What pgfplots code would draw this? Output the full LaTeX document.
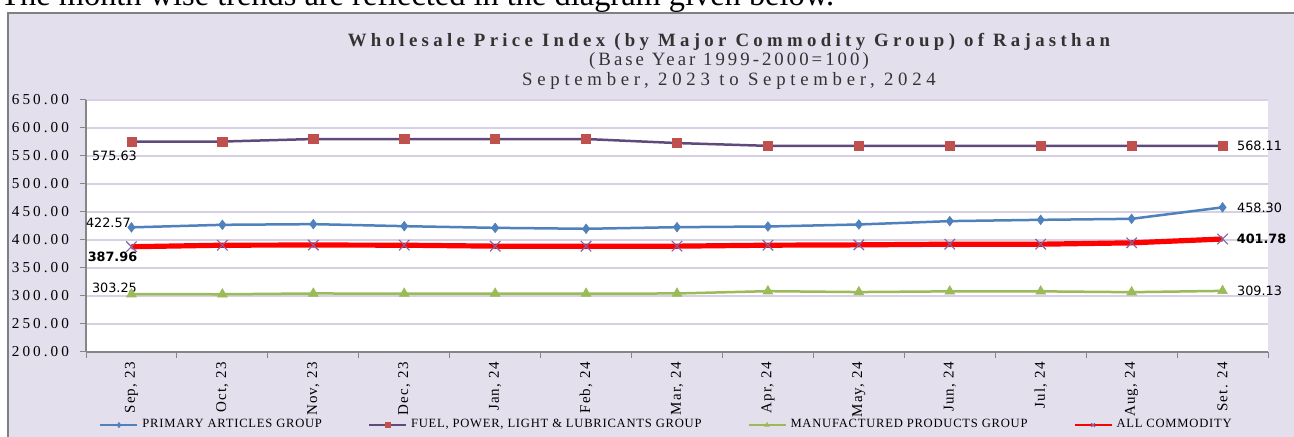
\documentclass[border=0pt]{standalone}
\usepackage{pgfplots}
\pgfplotsset{compat=1.18}
\usepackage{fontspec}
\setmainfont{Liberation Serif}
\newfontfamily\spaced[LetterSpace=20]{Liberation Serif}
\newfontfamily\spacedA[LetterSpace=23]{Liberation Serif}
\newfontfamily\spacedB[LetterSpace=16]{Liberation Serif}
\newfontfamily\spacedC[LetterSpace=25]{Liberation Serif}
\newfontfamily\spacedtick[LetterSpace=8]{Liberation Serif}
\newfontfamily\legfont[LetterSpace=6]{Liberation Serif}
\newfontfamily\lab{DejaVu Sans}
\definecolor{lav}{HTML}{E4DFEC}
\definecolor{gridc}{HTML}{D6D0E2}
\definecolor{axc}{HTML}{868686}
\definecolor{cprim}{HTML}{4F81BD}
\definecolor{cfuel}{HTML}{604A7B}
\definecolor{cfuelm}{HTML}{C0504D}
\definecolor{cman}{HTML}{9BBB59}
\definecolor{callm}{HTML}{8064A2}
\begin{document}
\begin{tikzpicture}[x=0.5pt,y=-0.5pt]
\node[anchor=base west,inner sep=0,font=\fontsize{16.2}{17}\selectfont] at (0,6) {The month wise trends are reflected in the diagram given below.};
\fill[lav] (8,13) rectangle (1310,450);
\draw[gray,line width=0.8pt] (8,450) -- (8,13) -- (1310,13);
\node[font=\spacedA\bfseries\fontsize{9.4}{10}\selectfont,text=black!80] at (729,42) {Wholesale Price Index (by Major Commodity Group) of Rajasthan};
\node[font=\spacedB\fontsize{9.4}{10}\selectfont,text=black!80] at (729,61) {(Base Year 1999-2000=100)};
\node[font=\spacedC\fontsize{9.4}{10}\selectfont,text=black!80] at (729,81) {September, 2023 to September, 2024};
\coordinate (A) at (86,100);
\begin{axis}[
  at={(A)}, anchor=north west,
  scale only axis, width=591pt, height=126pt,
  xmin=-0.5, xmax=12.5, ymin=200, ymax=650,
  axis background/.style={fill=white},
  axis x line*=bottom, axis y line*=left,
  axis line style={axc, line width=0.6pt},
  ytick={200,250,...,650},
  yticklabel style={font=\spaced\fontsize{7.6}{8}\selectfont, xshift=-2pt, /pgf/number format/.cd, fixed, fixed zerofill, precision=2, assume math mode=true},
  ymajorgrids, major grid style={gridc, line width=0.8pt},
  tick align=outside, major tick length=3pt, tick style={axc, line width=0.5pt},
  xtick={0,...,12},
  xticklabels={{Sep, 23},{Oct, 23},{Nov, 23},{Dec, 23},{Jan, 24},{Feb, 24},{Mar, 24},{Apr, 24},{May, 24},{Jun, 24},{Jul, 24},{Aug, 24},{Set. 24}},
  x tick style={draw=none},
  minor xtick={-0.5,0.5,...,12.5},
  minor x tick style={draw=axc, line width=0.5pt},
  minor tick length=3pt,
  xticklabel style={rotate=90, anchor=east, font=\spacedtick\fontsize{7.5}{8}\selectfont, inner sep=0pt, xshift=-2pt},
  clip=false,
  legend columns=4,
  legend style={at={(0.006,-0.29)}, anchor=west, draw=none, fill=none, font=\legfont\fontsize{6.3}{7}\selectfont,
     /tikz/every even column/.append style={column sep=21pt}},
  legend image code/.code={\draw[#1, line width=1pt, mark size=1.3pt, mark repeat=2, mark phase=2] plot coordinates {(0pt,0pt) (9.25pt,0pt) (18.5pt,0pt)};},
]
\addplot[cprim, line width=1.25pt, mark=diamond*, mark size=2.4pt, mark options={fill=cprim, draw=cprim, line width=0.3pt}] coordinates {
(0,422.57) (1,427.1) (2,428.3) (3,424.7) (4,421.7) (5,420.0) (6,422.9) (7,424.1) (8,427.7) (9,433.7) (10,436.0) (11,437.8) (12,458.30)};
\addlegendentry{PRIMARY ARTICLES GROUP}
\addplot[cfuel, line width=1.25pt, mark=square*, mark size=2.3pt, mark options={fill=cfuelm, draw=cfuelm, line width=0.3pt}] coordinates {
(0,575.63) (1,575.8) (2,580.3) (3,580.3) (4,580.3) (5,580.3) (6,573.1) (7,568.11) (8,568.11) (9,568.11) (10,568.11) (11,568.11) (12,568.11)};
\addlegendentry{FUEL, POWER, LIGHT \& LUBRICANTS GROUP}
\addplot[cman, line width=1.25pt, mark=triangle*, mark size=2.8pt, mark options={fill=cman, draw=cman, line width=0.3pt}] coordinates {
(0,303.25) (1,303.1) (2,304.5) (3,304.3) (4,304.3) (5,304.3) (6,304.5) (7,308.6) (8,307.0) (9,308.3) (10,308.3) (11,306.8) (12,309.13)};
\addlegendentry{MANUFACTURED PRODUCTS GROUP}
\addplot[red, line width=2.6pt, mark=x, mark size=3.7pt, mark options={draw=callm, line width=0.55pt}, legend image post style={line width=1.5pt}] coordinates {
(0,387.96) (1,390.7) (2,391.0) (3,390.7) (4,389.0) (5,389.0) (6,389.0) (7,390.7) (8,391.3) (9,392.5) (10,392.5) (11,394.9) (12,401.78)};
\addlegendentry{ALL COMMODITY}
\node[font=\lab\fontsize{6.4}{7}\selectfont] at (axis cs:0,575.63) [xshift=-8.5pt, yshift=-7pt] {575.63};
\node[font=\lab\fontsize{6.4}{7}\selectfont] at (axis cs:0,422.57) [xshift=-11.5pt, yshift=2.3pt] {422.57};
\node[font=\lab\bfseries\fontsize{6.4}{7}\selectfont] at (axis cs:0,387.96) [xshift=-9.5pt, yshift=-5.2pt] {387.96};
\node[font=\lab\fontsize{6.4}{7}\selectfont] at (axis cs:0,303.25) [xshift=-8.5pt, yshift=3pt] {303.25};
\node[font=\lab\fontsize{6.4}{7}\selectfont] at (axis cs:12,568.11) [xshift=18.5pt] {568.11};
\node[font=\lab\fontsize{6.4}{7}\selectfont] at (axis cs:12,458.30) [xshift=18.5pt] {458.30};
\node[font=\lab\bfseries\fontsize{6.4}{7}\selectfont] at (axis cs:12,401.78) [xshift=19.5pt, yshift=0.3pt] {401.78};
\node[font=\lab\fontsize{6.4}{7}\selectfont] at (axis cs:12,309.13) [xshift=18.5pt] {309.13};
\end{axis}
\pgfresetboundingbox
\path[use as bounding box] (0,0) rectangle (1294,437);
\end{tikzpicture}
\end{document}
